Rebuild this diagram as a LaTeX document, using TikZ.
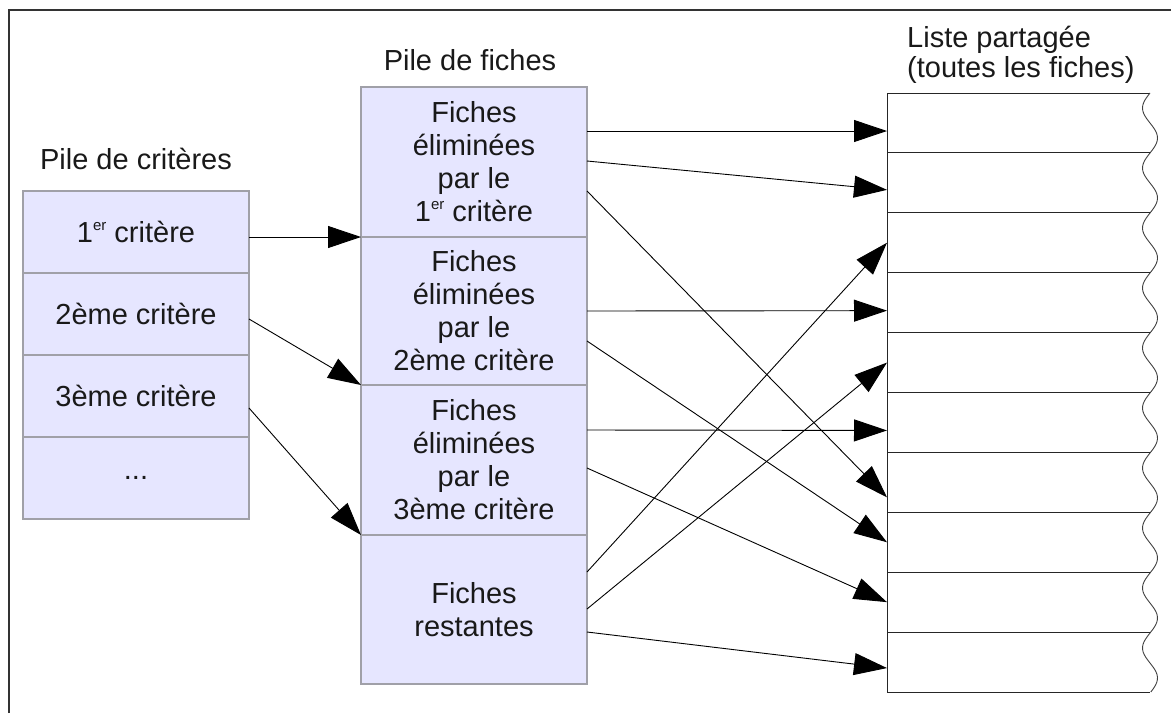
\documentclass[tikz,border=0pt]{standalone}
\usepackage{fontspec}
\setmainfont{Liberation Sans}
\usetikzlibrary{arrows.meta,calc}
\definecolor{cellfill}{HTML}{E6E6FF}
\definecolor{cellline}{HTML}{A0A0A8}
\definecolor{framecol}{HTML}{333333}
\newcommand{\ersup}{\raisebox{0.42em}{\fontsize{15}{15}\selectfont er}}
\begin{document}
\begin{tikzpicture}[x=1pt,y=-1pt,
  cell/.style={draw=cellline, line width=1.2pt, fill=cellfill, minimum width=226pt,
    inner sep=0pt, outer sep=0pt, anchor=north west, align=center,
    font=\fontsize{29}{33}\selectfont, text=black!90},
  listcell/.style={draw=none, minimum width=263pt, minimum height=59.9pt,
    inner sep=0pt, outer sep=0pt, anchor=north west},
  conn/.style={-{Triangle[length=33pt,width=22pt]}, line width=0.9pt, black},
  lbl/.style={font=\fontsize{29}{30}\selectfont, inner sep=0pt, text=black!90},
  listline/.style={line width=1pt, black!85}
]
\useasboundingbox (0,0) rectangle (1171,713);
% outer frame
\draw[framecol, line width=1.6pt] (9,713) -- (9,10) -- (1171,10);

% titles
\node[lbl, anchor=base] (t1) at (136,169) {Pile de critères};
\node[lbl, anchor=base] (t2) at (470,70) {Pile de fiches};
\node[lbl, anchor=base west, align=left] (t3) at (907,77) {Liste partagée\\(toutes les fiches)};

% left stack
\node[cell, minimum height=82pt] (c1) at (23,191) {1\ersup{} critère};
\node[cell, minimum height=82pt] (c2) at (23,273) {2ème critère};
\node[cell, minimum height=82pt] (c3) at (23,355) {3ème critère};
\node[cell, minimum height=82pt] (c4) at (23,437) {...};

% middle stack
\node[cell, minimum height=150pt] (f1) at (361,87) {Fiches\\éliminées\\par le\\1\ersup{} critère};
\node[cell, minimum height=148pt] (f2) at (361,237) {Fiches\\éliminées\\par le\\2ème critère};
\node[cell, minimum height=150pt] (f3) at (361,385) {Fiches\\éliminées\\par le\\3ème critère};
\node[cell, minimum height=149pt] (f4) at (361,535) {Fiches\\restantes};

% shared list
\foreach \i in {1,...,10} {
  \node[listcell] (l\i) at (887,{93+59.9*(\i-1)}) {};
}
\draw[listline] (l1.north west) -- (l10.south west);
\foreach \i in {1,...,10} {
  \draw[listline] (l\i.north west) -- (l\i.north east);
}
\draw[listline] (l10.south west) -- (l10.south east);
\draw[line width=0.9pt, black!75] plot[domain=93:692, samples=240, smooth]
  ({1150 - 7.5*sin(6*(\x-93))}, \x);

% connectors left -> middle
\draw[conn] (c1.east |- f1.south west) -- (f1.south west);
\draw[conn] ($(c2.east)+(0,5)$) -- (f2.south west);
\draw[conn] ($(c3.east)+(0,12)$) -- (f3.south west);

% connectors middle -> list
\draw[conn] ($(f1.north east)+(0,44)$) -- (l1.west |- {$(f1.north east)+(0,44)$});
\draw[conn] ($(f1.north east)+(0,74)$) -- ($(l2.west)+(0,7)$);
\draw[conn] ($(f1.north east)+(0,104)$) -- ($(l7.west)+(0,15)$);
\draw[conn] ($(f2.north east)+(0,74)$) -- ($(l4.west)+(0,8)$);
\draw[conn] ($(f2.north east)+(0,104)$) -- (l8.west);
\draw[conn] ($(f3.north east)+(0,45)$) -- ($(l6.west)+(0,8)$);
\draw[conn] ($(f3.north east)+(0,83)$) -- (l9.west);
\draw[conn] ($(f4.north east)+(0,37)$) -- (l3.west);
\draw[conn] ($(f4.north east)+(0,74)$) -- (l5.west);
\draw[conn] ($(f4.north east)+(0,97)$) -- ($(l10.west)+(0,6)$);
\end{tikzpicture}
\end{document}
